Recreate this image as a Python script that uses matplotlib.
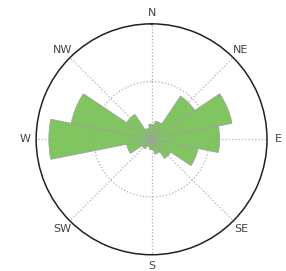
import numpy as np
import matplotlib
matplotlib.use("Agg")
import matplotlib.pyplot as plt

# 16 compass sectors, frequency (%) per sector
directions = ["N", "NNE", "NE", "ENE", "E", "ESE", "SE", "SSE",
              "S", "SSW", "SW", "WSW", "W", "WNW", "NW", "NNW"]
freq = [1.3, 1.6, 4.5, 7.1, 5.9, 4.1, 2.0, 1.3,
        0.9, 0.7, 1.0, 2.2, 8.9, 7.1, 2.6, 1.0]
compass_labels = ["N", "NE", "E", "SE", "S", "SW", "W", "NW"]

fig = plt.figure(figsize=(2.86, 2.71), dpi=100)
ax = fig.add_axes([0.126, 0.06, 0.808, 0.852], projection="polar")
ax.set_theta_zero_location("N")
ax.set_theta_direction(-1)

width = 2 * np.pi / len(directions)
theta = np.arange(len(directions)) * width
ax.bar(theta, freq, width=width, bottom=0, color="#79c256",
       edgecolor="#a0a0a0", linewidth=0.6, alpha=0.95, zorder=3)

ax.set_ylim(0, 10)
ax.set_yticks([5])
ax.set_yticklabels([])
label_angles = np.deg2rad(np.arange(0, 360, 45))
ax.set_xticks(label_angles)
ax.set_xticklabels([])
for ang, lab in zip(label_angles, compass_labels):
    ax.text(ang, 10.95, lab, ha="center", va="center", fontsize=8,
            color="#444444", clip_on=False)
ax.grid(True, color="#b0b0b0", linestyle=":", linewidth=0.9)
ax.spines["polar"].set_color("#222222")
ax.spines["polar"].set_linewidth(1.1)

fig.savefig("out.png", dpi=100)
